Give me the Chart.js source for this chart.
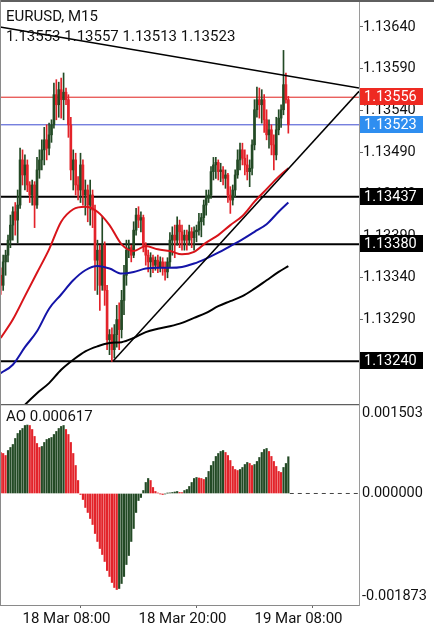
<!DOCTYPE html>
<html>
<head>
<meta charset="utf-8">
<script src="https://cdn.jsdelivr.net/npm/chart.js@4.4.1/dist/chart.umd.min.js"></script>
<style>
    html, body { margin: 0; padding: 0; background: #fff; }
    #wrap { position: relative; width: 434px; height: 625px; overflow: hidden; font-family: Roboto, sans-serif; }
    #mainChart { position: absolute; left: 0; top: 0; }
    #aoChart { position: absolute; left: 0; top: 404px; }
    .lbl { position: absolute; left: 6px; font-size: 15px; line-height: 18px; color: #111; white-space: nowrap; }
</style>
</head>
<body>
<div id="wrap">
    <canvas id="mainChart" width="434" height="404"></canvas>
    <canvas id="aoChart" width="434" height="221"></canvas>
    <div class="lbl" id="symbolLabel" style="top:7px">EURUSD, M15</div>
    <div class="lbl" id="ohlcLabel" style="top:27px"></div>
    <div class="lbl" id="aoLabel" style="top:407px"></div>
</div>
<script>
// EURUSD M15, 18 Mar 05:45 .. 19 Mar 11:30 (bar index 0..119)
const opens = [
    1.13343, 1.13331, 1.13359, 1.13367, 1.13385, 1.13403, 1.13419, 1.13409, 1.13427, 1.13481,
    1.13463, 1.13475, 1.13451, 1.13439, 1.13451, 1.13427, 1.13469, 1.13481, 1.13493, 1.13505,
    1.13495, 1.13511, 1.13523, 1.13559, 1.13547, 1.13565, 1.13553, 1.13562, 1.13553, 1.13523,
    1.13469, 1.13481, 1.13451, 1.13445, 1.13475, 1.13439, 1.13445, 1.13427, 1.13439, 1.13421,
    1.13361, 1.13373, 1.13331, 1.13379, 1.13325, 1.13266, 1.13272, 1.13254, 1.13272, 1.13290,
    1.13278, 1.13313, 1.13343, 1.13373, 1.13376, 1.13367, 1.13397, 1.13415, 1.13409, 1.13412,
    1.13379, 1.13367, 1.13359, 1.13364, 1.13355, 1.13361, 1.13352, 1.13359, 1.13352, 1.13347,
    1.13359, 1.13385, 1.13391, 1.13385, 1.13403, 1.13395, 1.13385, 1.13391, 1.13385, 1.13395,
    1.13388, 1.13395, 1.13397, 1.13407, 1.13412, 1.13427, 1.13435, 1.13439, 1.13467, 1.13475,
    1.13478, 1.13467, 1.13469, 1.13459, 1.13463, 1.13439, 1.13433, 1.13445, 1.13463, 1.13481,
    1.13493, 1.13483, 1.13475, 1.13467, 1.13471, 1.13499, 1.13541, 1.13553, 1.13547, 1.13553,
    1.13529, 1.13511, 1.13517, 1.13499, 1.13487, 1.13517, 1.13531, 1.13541, 1.13571, 1.13553
];
const highs = [
    1.13352, 1.13367, 1.13373, 1.13391, 1.13415, 1.13425, 1.13430, 1.13445, 1.13495, 1.13493,
    1.13487, 1.13481, 1.13455, 1.13457, 1.13455, 1.13484, 1.13493, 1.13505, 1.13520, 1.13523,
    1.13525, 1.13529, 1.13573, 1.13577, 1.13574, 1.13579, 1.13585, 1.13567, 1.13559, 1.13532,
    1.13493, 1.13489, 1.13461, 1.13489, 1.13481, 1.13457, 1.13451, 1.13457, 1.13445, 1.13427,
    1.13385, 1.13379, 1.13413, 1.13383, 1.13331, 1.13278, 1.13280, 1.13284, 1.13307, 1.13310,
    1.13325, 1.13355, 1.13385, 1.13385, 1.13379, 1.13407, 1.13423, 1.13425, 1.13419, 1.13415,
    1.13382, 1.13373, 1.13370, 1.13367, 1.13365, 1.13367, 1.13365, 1.13364, 1.13359, 1.13364,
    1.13394, 1.13401, 1.13403, 1.13413, 1.13409, 1.13403, 1.13397, 1.13397, 1.13403, 1.13400,
    1.13401, 1.13403, 1.13417, 1.13417, 1.13433, 1.13445, 1.13445, 1.13473, 1.13484, 1.13484,
    1.13481, 1.13477, 1.13473, 1.13469, 1.13465, 1.13449, 1.13451, 1.13469, 1.13493, 1.13501,
    1.13501, 1.13493, 1.13487, 1.13481, 1.13505, 1.13553, 1.13568, 1.13567, 1.13565, 1.13559,
    1.13541, 1.13529, 1.13523, 1.13511, 1.13532, 1.13541, 1.13547, 1.13612, 1.13585, 1.13557
];
const lows = [
    1.13320, 1.13325, 1.13343, 1.13359, 1.13376, 1.13385, 1.13391, 1.13382, 1.13423, 1.13451,
    1.13445, 1.13443, 1.13430, 1.13427, 1.13400, 1.13423, 1.13459, 1.13469, 1.13475, 1.13481,
    1.13487, 1.13502, 1.13519, 1.13529, 1.13532, 1.13531, 1.13529, 1.13547, 1.13508, 1.13457,
    1.13445, 1.13439, 1.13433, 1.13430, 1.13427, 1.13415, 1.13407, 1.13403, 1.13400, 1.13325,
    1.13320, 1.13301, 1.13325, 1.13307, 1.13254, 1.13248, 1.13240, 1.13244, 1.13257, 1.13254,
    1.13268, 1.13296, 1.13331, 1.13364, 1.13359, 1.13364, 1.13391, 1.13400, 1.13395, 1.13371,
    1.13355, 1.13347, 1.13341, 1.13346, 1.13349, 1.13346, 1.13347, 1.13343, 1.13337, 1.13340,
    1.13352, 1.13367, 1.13364, 1.13379, 1.13376, 1.13373, 1.13373, 1.13373, 1.13379, 1.13376,
    1.13373, 1.13383, 1.13391, 1.13389, 1.13403, 1.13415, 1.13430, 1.13435, 1.13457, 1.13459,
    1.13457, 1.13455, 1.13451, 1.13447, 1.13430, 1.13417, 1.13427, 1.13437, 1.13459, 1.13469,
    1.13475, 1.13463, 1.13457, 1.13449, 1.13463, 1.13493, 1.13532, 1.13531, 1.13525, 1.13514,
    1.13505, 1.13495, 1.13487, 1.13469, 1.13481, 1.13511, 1.13520, 1.13535, 1.13549, 1.13513
];
const closes = [
    1.13331, 1.13359, 1.13367, 1.13385, 1.13403, 1.13419, 1.13409, 1.13427, 1.13481, 1.13463,
    1.13475, 1.13451, 1.13439, 1.13451, 1.13427, 1.13469, 1.13481, 1.13493, 1.13505, 1.13495,
    1.13511, 1.13523, 1.13559, 1.13547, 1.13565, 1.13553, 1.13562, 1.13553, 1.13523, 1.13469,
    1.13481, 1.13451, 1.13445, 1.13475, 1.13439, 1.13445, 1.13427, 1.13439, 1.13421, 1.13361,
    1.13373, 1.13331, 1.13379, 1.13325, 1.13266, 1.13272, 1.13254, 1.13272, 1.13290, 1.13278,
    1.13313, 1.13343, 1.13373, 1.13376, 1.13367, 1.13397, 1.13415, 1.13409, 1.13412, 1.13379,
    1.13367, 1.13359, 1.13364, 1.13355, 1.13361, 1.13352, 1.13359, 1.13352, 1.13347, 1.13359,
    1.13385, 1.13391, 1.13385, 1.13403, 1.13395, 1.13385, 1.13391, 1.13385, 1.13395, 1.13388,
    1.13395, 1.13397, 1.13407, 1.13412, 1.13427, 1.13435, 1.13439, 1.13467, 1.13475, 1.13478,
    1.13467, 1.13469, 1.13459, 1.13463, 1.13439, 1.13433, 1.13445, 1.13463, 1.13481, 1.13493,
    1.13483, 1.13475, 1.13467, 1.13471, 1.13499, 1.13541, 1.13553, 1.13547, 1.13553, 1.13529,
    1.13511, 1.13517, 1.13499, 1.13487, 1.13517, 1.13531, 1.13541, 1.13571, 1.13553, 1.13523
];

// moving averages, read every 5 bars
const maIndex = [0, 5, 10, 15, 20, 25, 30, 35, 40, 45, 50, 55, 60, 65, 70, 75, 80, 85, 90, 95, 100, 105, 110, 115, 119];
const maRed = [1.13268, 1.13290, 1.13318, 1.13346, 1.13374, 1.13407, 1.13422, 1.13425, 1.13419, 1.13403, 1.13380, 1.13372, 1.13378,
    1.13374, 1.13372, 1.13368, 1.13371, 1.13382, 1.13391, 1.13403, 1.13414, 1.13431, 1.13446, 1.13461, 1.13471];
const maBlue = [1.13226, 1.13236, 1.13257, 1.13276, 1.13303, 1.13320, 1.13337, 1.13349, 1.13354, 1.13351, 1.13345, 1.13347, 1.13351,
    1.13352, 1.13352, 1.13353, 1.13357, 1.13363, 1.13370, 1.13378, 1.13386, 1.13395, 1.13404, 1.13419, 1.13430];
const maBlack = [1.13158, 1.13172, 1.13188, 1.13202, 1.13214, 1.13230, 1.13242, 1.13252, 1.13258, 1.13262, 1.13263, 1.13268, 1.13275,
    1.13279, 1.13282, 1.13286, 1.13292, 1.13298, 1.13306, 1.13312, 1.13318, 1.13327, 1.13337, 1.13347, 1.13354];

// trend lines (bar index, price)
const downTrendIdx = [-0.31, 148.24];
const downTrendPrice = [1.13640, 1.13567];
const upTrendIdx = [46.4, 148.24];
const upTrendPrice = [1.13240, 1.13563];

// horizontal levels
const askLevel = 1.13556;
const bidLevel = 1.13523;
const hLevels = [1.13437, 1.13380, 1.13240];

const priceTicks = [1.13240, 1.13290, 1.13340, 1.13390, 1.13440, 1.13490, 1.13540, 1.13590, 1.13640];

// Awesome Oscillator
const aoValues = [
    0.000689, 0.000672, 0.000638, 0.000722, 0.000773, 0.000823, 0.000924, 0.001008, 0.001058, 0.001092,
    0.001142, 0.001150, 0.001142, 0.001075, 0.000958, 0.000840, 0.000773, 0.000790, 0.000857, 0.000907,
    0.000924, 0.000941, 0.000991, 0.001042, 0.001092, 0.001126, 0.001142, 0.001075, 0.000991, 0.000857,
    0.000672, 0.000470, 0.000218, -0.000017, -0.000101, -0.000235, -0.000319, -0.000420, -0.000521, -0.000672,
    -0.000806, -0.000924, -0.001025, -0.001142, -0.001294, -0.001394, -0.001495, -0.001579, -0.001613, -0.001596,
    -0.001512, -0.001394, -0.001193, -0.001042, -0.000806, -0.000588, -0.000319, -0.000118, -0.000067, 0.000050,
    0.000185, 0.000252, 0.000218, 0.000101, 0.000034, 0.000008, -0.000005, -0.000017, -0.000008, 0.000005,
    0.000010, 0.000017, 0.000025, 0.000034, 0.000017, 0.000015, 0.000050, 0.000067, 0.000118, 0.000185,
    0.000252, 0.000269, 0.000260, 0.000252, 0.000235, 0.000269, 0.000370, 0.000470, 0.000538, 0.000622,
    0.000672, 0.000706, 0.000722, 0.000689, 0.000638, 0.000554, 0.000454, 0.000403, 0.000386, 0.000403,
    0.000437, 0.000487, 0.000521, 0.000504, 0.000470, 0.000487, 0.000538, 0.000605, 0.000689, 0.000739,
    0.000756, 0.000706, 0.000622, 0.000538, 0.000454, 0.000370, 0.000353, 0.000437, 0.000504, 0.000617
];
const aoMax = 0.001503;
const aoMin = -0.001873;

const timeTickIdx = [9, 57, 105];
const timeLabels = ["18 Mar 08:00", "18 Mar 20:00", "19 Mar 08:00"];

document.addEventListener("DOMContentLoaded", function () {
    const FONT = "Roboto";
    const BULL = "#234a25";
    const BEAR = "#e3232a";
    const xMin = -0.31;
    const xMax = 148.24;
    const yMin = 1.131890;
    const yMax = 1.136699;

    const last = closes.length - 1;
    document.getElementById("ohlcLabel").textContent =
        [opens[last], highs[last], lows[last], closes[last]].map(v => v.toFixed(5)).join(" ");
    document.getElementById("aoLabel").textContent = "AO " + aoValues[aoValues.length - 1].toFixed(6);

    const pts = (idx, vals) => idx.map((x, i) => ({x: x, y: vals[i]}));
    const flat = (v) => [{x: xMin - 1, y: v}, {x: xMax + 1, y: v}];
    // fixed right axis, no extra room for edge labels
    const fixWidth = (s) => {
        s.width = 75;
        s.paddingTop = 0;
        s.paddingBottom = 0;
    };

    // ----------------------------
    // Price chart
    // ----------------------------
    (function () {
        const ctx = document.getElementById("mainChart");
        const candleColors = closes.map((c, i) => c >= opens[i] ? BULL : BEAR);

        const lineDs = (data, color, width, order, extra) => Object.assign({
            type: "line",
            data: data,
            borderColor: color,
            borderWidth: width,
            pointRadius: 0,
            fill: false,
            order: order
        }, extra || {});

        const boxes = [
            {value: askLevel, bg: "#ee2a22"},
            {value: bidLevel, bg: "#2f8ef0"}
        ].concat(hLevels.map(v => ({value: v, bg: "#000"})));

        const overlay = {
            id: "overlay",
            afterDraw(chart) {
                const c = chart.ctx;
                const area = chart.chartArea;
                const y = chart.scales.y;
                c.save();
                c.font = "14.5px " + FONT;
                c.textBaseline = "middle";
                boxes.forEach(b => {
                    const py = Math.round(y.getPixelForValue(b.value));
                    c.fillStyle = b.bg;
                    c.fillRect(area.right + 1, py - 9, 63, 17);
                    c.fillStyle = "#fff";
                    c.fillText(b.value.toFixed(5), area.right + 5, py + 0.5);
                });
                c.strokeStyle = "#5f5f5f";
                c.lineWidth = 2;
                c.beginPath();
                c.moveTo(0, 1);
                c.lineTo(chart.width, 1);
                c.stroke();
                c.strokeStyle = "#8a8a8a";
                c.lineWidth = 1;
                c.beginPath();
                c.moveTo(0.5, 0);
                c.lineTo(0.5, chart.height);
                c.stroke();
                c.restore();
            }
        };

        new Chart(ctx, {
            type: "bar",
            data: {
                datasets: [
                    lineDs(pts(downTrendIdx, downTrendPrice), "#000", 1.5, 1),
                    lineDs(pts(upTrendIdx, upTrendPrice), "#000", 1.5, 1),
                    lineDs(pts(maIndex, maRed), "#d8141a", 2, 2, {cubicInterpolationMode: "monotone"}),
                    lineDs(pts(maIndex, maBlue), "#1414a8", 2, 2, {cubicInterpolationMode: "monotone"}),
                    lineDs(pts(maIndex, maBlack), "#000", 2, 2, {cubicInterpolationMode: "monotone"}),
                    {
                        type: "bar",
                        data: closes.map((c, i) => ({x: i, y: [opens[i], c]})),
                        backgroundColor: candleColors,
                        barThickness: 2,
                        minBarLength: 1,
                        grouped: false,
                        order: 4
                    },
                    {
                        type: "bar",
                        data: closes.map((c, i) => ({x: i, y: [lows[i], highs[i]]})),
                        backgroundColor: candleColors,
                        barThickness: 1,
                        grouped: false,
                        order: 5
                    },
                    lineDs(flat(askLevel), "#e0201c", 1, 6),
                    lineDs(flat(bidLevel), "#3c4ad0", 1, 6)
                ].concat(hLevels.map(v => lineDs(flat(v), "#000", 2, 6)))
            },
            options: {
                responsive: false,
                animation: false,
                devicePixelRatio: 1,
                layout: {padding: {top: 2, left: 0, right: 0, bottom: 0}},
                plugins: {
                    legend: {display: false},
                    tooltip: {enabled: false}
                },
                scales: {
                    x: {type: "linear", min: xMin, max: xMax, offset: false, display: false},
                    y: {
                        position: "right",
                        min: yMin,
                        max: yMax,
                        grid: {drawOnChartArea: false, tickLength: 4, color: "#666"},
                        border: {color: "#9a9a9a"},
                        ticks: {
                            padding: 0,
                            color: "#111",
                            font: {family: FONT, size: 14.5},
                            callback: (v) => Number(v).toFixed(5)
                        },
                        afterBuildTicks: (s) => { s.ticks = priceTicks.map(v => ({value: v})); },
                        afterFit: fixWidth
                    }
                }
            },
            plugins: [overlay]
        });
    })();

    // ----------------------------
    // AO histogram
    // ----------------------------
    (function () {
        const ctx = document.getElementById("aoChart");
        const aoColors = aoValues.map((v, i) => (i > 0 && v >= aoValues[i - 1]) ? BULL : BEAR);
        const edgePad = (aoMax - aoMin) * 9 / 201;
        const aoAxisLabels = [aoMax, 0, aoMin];

        const frame = {
            id: "frame",
            afterDraw(chart) {
                const c = chart.ctx;
                const area = chart.chartArea;
                c.save();
                c.strokeStyle = "#5f5f5f";
                c.lineWidth = 1.5;
                c.beginPath();
                c.moveTo(0, area.top + 0.5);
                c.lineTo(area.right, area.top + 0.5);
                c.stroke();
                c.strokeStyle = "#8a8a8a";
                c.lineWidth = 1;
                c.beginPath();
                c.moveTo(0.5, 0);
                c.lineTo(0.5, area.bottom);
                c.stroke();
                c.restore();
            }
        };

        new Chart(ctx, {
            type: "bar",
            data: {
                datasets: [
                    {
                        type: "line",
                        data: [{x: aoValues.length - 0.4, y: 0}, {x: xMax, y: 0}],
                        borderColor: "#444",
                        borderWidth: 1,
                        borderDash: [4, 4],
                        pointRadius: 0,
                        order: 2
                    },
                    {
                        type: "bar",
                        data: aoValues.map((v, i) => ({x: i, y: v})),
                        backgroundColor: aoColors,
                        barThickness: 1.5,
                        order: 1
                    }
                ]
            },
            options: {
                responsive: false,
                animation: false,
                devicePixelRatio: 1,
                layout: {padding: 0},
                plugins: {
                    legend: {display: false},
                    tooltip: {enabled: false}
                },
                scales: {
                    x: {
                        type: "linear",
                        min: xMin,
                        max: xMax,
                        offset: false,
                        grid: {drawOnChartArea: false, tickLength: 3, color: "#666"},
                        border: {color: "#8a8a8a"},
                        ticks: {
                            align: "start",
                            padding: 2,
                            maxRotation: 0,
                            autoSkip: false,
                            color: "#111",
                            font: {family: FONT, size: 15},
                            callback: (v, i) => timeLabels[i]
                        },
                        afterBuildTicks: (s) => { s.ticks = timeTickIdx.map(v => ({value: v})); },
                        afterFit: (s) => {
                            s.height = 20;
                            s.paddingLeft = 0;
                            s.paddingRight = 0;
                        }
                    },
                    y: {
                        position: "right",
                        min: aoMin,
                        max: aoMax,
                        grid: {drawOnChartArea: false, drawTicks: false},
                        border: {color: "#9a9a9a"},
                        ticks: {
                            padding: 3,
                            color: "#111",
                            font: {family: FONT, size: 14.5},
                            callback: (v, i) => aoAxisLabels[i].toFixed(6)
                        },
                        afterBuildTicks: (s) => {
                            s.ticks = [aoMax - edgePad, 0, aoMin + edgePad].map(v => ({value: v}));
                        },
                        afterFit: fixWidth
                    }
                }
            },
            plugins: [frame]
        });
    })();
});
</script>
</body>
</html>
